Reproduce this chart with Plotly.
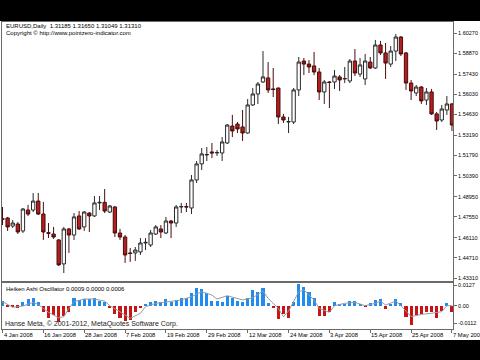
import plotly.graph_objects as go

# ---------------- data ----------------
dates_lbl = ["4 Jan 2008", "16 Jan 2008", "28 Jan 2008", "7 Feb 2008", "19 Feb 2008",
             "29 Feb 2008", "12 Mar 2008", "24 Mar 2008", "3 Apr 2008", "15 Apr 2008",
             "25 Apr 2008", "7 May 2008"]
dates_idx = [0, 8, 16, 24, 32, 40, 48, 56, 64, 72, 80, 88]

opens = [1.4742, 1.4747, 1.4691, 1.4705, 1.4657, 1.4802, 1.4802, 1.4864, 1.4774, 1.4645,
         1.4636, 1.4595, 1.4429, 1.4671, 1.4629, 1.4761, 1.4685, 1.4781, 1.4761, 1.4851,
         1.4855, 1.4788, 1.4823, 1.4643, 1.4615, 1.4505, 1.4505, 1.4512, 1.4574, 1.4560,
         1.4636, 1.4671, 1.4643, 1.4726, 1.4712, 1.4823, 1.4826, 1.4816, 1.5010, 1.5121,
         1.5183, 1.5204, 1.5197, 1.5197, 1.5266, 1.5383, 1.5397, 1.5377, 1.5335, 1.5529,
         1.5605, 1.5688, 1.5716, 1.5640, 1.5646, 1.5446, 1.5411, 1.5411, 1.5633, 1.5833,
         1.5812, 1.5799, 1.5757, 1.5619, 1.5688, 1.5688, 1.5723, 1.5709, 1.5695, 1.5833,
         1.5743, 1.5709, 1.5826, 1.5785, 1.5944, 1.5889, 1.5812, 1.5902, 1.5999, 1.5889,
         1.5681, 1.5612, 1.5653, 1.5563, 1.5619, 1.5467, 1.5425, 1.5494, 1.5536]
highs = [1.4823, 1.4754, 1.4733, 1.4719, 1.4816, 1.4837, 1.4920, 1.4920, 1.4858, 1.4712,
         1.4685, 1.4600, 1.4685, 1.4678, 1.4781, 1.4795, 1.4795, 1.4788, 1.4899, 1.4899,
         1.4947, 1.4837, 1.4830, 1.4671, 1.4629, 1.4539, 1.4546, 1.4608, 1.4608, 1.4664,
         1.4698, 1.4698, 1.4754, 1.4733, 1.4837, 1.4851, 1.4851, 1.5044, 1.5141, 1.5231,
         1.5238, 1.5266, 1.5217, 1.5307, 1.5397, 1.5460, 1.5411, 1.5494, 1.5570, 1.5646,
         1.5688, 1.5902, 1.5826, 1.5785, 1.5650, 1.5467, 1.5446, 1.5646, 1.5861, 1.5854,
         1.5840, 1.5896, 1.5785, 1.5702, 1.5692, 1.5771, 1.5736, 1.5792, 1.5847, 1.5916,
         1.5854, 1.5882, 1.5861, 1.5979, 1.5972, 1.5958, 1.5937, 1.6020, 1.6006, 1.5896,
         1.5702, 1.5667, 1.5660, 1.5646, 1.5640, 1.5480, 1.5529, 1.5591, 1.5543]
lows = [1.4698, 1.4657, 1.4678, 1.4636, 1.4643, 1.4761, 1.4788, 1.4768, 1.4595, 1.4608,
        1.4602, 1.4415, 1.4366, 1.4505, 1.4595, 1.4664, 1.4657, 1.4650, 1.4754, 1.4802,
        1.4781, 1.4781, 1.4615, 1.4595, 1.4436, 1.4443, 1.4450, 1.4491, 1.4525, 1.4546,
        1.4629, 1.4608, 1.4636, 1.4608, 1.4685, 1.4781, 1.4788, 1.4774, 1.4989, 1.5079,
        1.5141, 1.5162, 1.5176, 1.5141, 1.5259, 1.5307, 1.5335, 1.5280, 1.5330, 1.5522,
        1.5536, 1.5681, 1.5612, 1.5584, 1.5397, 1.5404, 1.5335, 1.5397, 1.5591, 1.5736,
        1.5750, 1.5736, 1.5563, 1.5536, 1.5508, 1.5640, 1.5626, 1.5681, 1.5681, 1.5729,
        1.5723, 1.5667, 1.5778, 1.5778, 1.5875, 1.5709, 1.5792, 1.5833, 1.5868, 1.5633,
        1.5563, 1.5591, 1.5536, 1.5529, 1.5460, 1.5356, 1.5411, 1.5460, 1.5349]
closes = [1.4738, 1.4685, 1.4712, 1.4650, 1.4809, 1.4774, 1.4864, 1.4774, 1.4650, 1.4641,
          1.4615, 1.4422, 1.4671, 1.4629, 1.4754, 1.4671, 1.4788, 1.4761, 1.4851, 1.4855,
          1.4795, 1.4830, 1.4643, 1.4615, 1.4491, 1.4501, 1.4525, 1.4574, 1.4578, 1.4643,
          1.4685, 1.4650, 1.4726, 1.4712, 1.4823, 1.4826, 1.4823, 1.5010, 1.5121, 1.5190,
          1.5186, 1.5197, 1.5200, 1.5273, 1.5390, 1.5349, 1.5363, 1.5335, 1.5529, 1.5605,
          1.5674, 1.5723, 1.5633, 1.5636, 1.5446, 1.5425, 1.5414, 1.5633, 1.5826, 1.5812,
          1.5792, 1.5757, 1.5619, 1.5688, 1.5685, 1.5729, 1.5702, 1.5712, 1.5833, 1.5750,
          1.5806, 1.5833, 1.5785, 1.5944, 1.5889, 1.5819, 1.5902, 1.5999, 1.5882, 1.5681,
          1.5626, 1.5653, 1.5557, 1.5619, 1.5467, 1.5418, 1.5501, 1.5536, 1.5390]

osc = [0.0030, -0.0010, -0.0010, -0.0012, 0.0025, 0.0042, 0.0050, 0.0025, -0.0042, -0.0080,
       -0.0059, -0.0101, -0.0063, -0.0038, 0.0050, 0.0036, 0.0042, 0.0042, 0.0046, 0.0029,
       0.0025, -0.0013, -0.0055, -0.0080, -0.0097, -0.0090, -0.0038, -0.0015, 0.0008, 0.0025,
       0.0029, 0.0025, 0.0042, 0.0025, 0.0036, 0.0046, 0.0046, 0.0078, 0.0113, 0.0105,
       0.0078, 0.0029, 0.0029, 0.0025, 0.0063, 0.0046, 0.0029, 0.0025, 0.0050, 0.0099,
       0.0084, 0.0113, 0.0015, -0.0017, -0.0084, -0.0055, -0.0076, 0.0025, 0.0134, 0.0120,
       0.0088, 0.0046, -0.0063, -0.0063, -0.0038, 0.0021, 0.0008, 0.0008, 0.0029, 0.0029,
       0.0008, -0.0008, 0.0015, 0.0036, 0.0042, -0.0021, 0.0008, 0.0042, 0.0015, -0.0069,
       -0.0122, -0.0059, -0.0055, -0.0042, -0.0042, -0.0080, -0.0034, 0.0015, -0.0038]

sig_idx = [0, 2, 4, 6, 7, 9, 11, 12, 13, 14, 16, 18, 20, 21, 23, 25, 27, 28, 30, 33, 35, 37,
           39, 41, 42, 44, 47, 49, 51, 52, 54, 55, 56, 58, 59, 61, 62, 64, 65, 67, 69, 71,
           73, 74, 75, 77, 78, 80, 82, 84, 86, 87, 88]
sig_val = [0.0025, -0.0010, -0.0002, 0.0021, 0.0008, -0.0042, -0.0076, -0.0070, -0.0017,
           0.0025, 0.0042, 0.0042, 0.0029, 0.0000, -0.0038, -0.0080, -0.0048, -0.0006,
           0.0015, 0.0025, 0.0036, 0.0057, 0.0088, 0.0067, 0.0042, 0.0063, 0.0036, 0.0050,
           0.0092, 0.0046, -0.0017, -0.0069, -0.0034, 0.0088, 0.0099, 0.0036, -0.0017,
           -0.0042, 0.0000, 0.0015, 0.0021, 0.0000, 0.0015, 0.0029, 0.0004, 0.0029, 0.0000,
           -0.0069, -0.0055, -0.0048, -0.0038, 0.0000, 0.0000]

price_ticks = [1.60270, 1.58870, 1.57430, 1.56030, 1.54630, 1.53190, 1.51790, 1.50390,
               1.48950, 1.47550, 1.46110, 1.44710, 1.43310]
osc_ticks = [0.0127, 0.0, -0.0112]
osc_tick_text = ["0.0127", "0.00", "-0.0112"]

# ---------------- figure ----------------
W, H = 480, 360
ML, MR, MT, MB = 2, 27, 21, 20
PW, PH = W - ML - MR, H - MT - MB
TOP = MT + PH  # pixel y of plot-area bottom


def py(pix):
    return (TOP - pix) / PH


def px(pix):
    return (pix - ML) / PW


idx = list(range(len(opens)))
FONT = "Liberation Sans, Arial, sans-serif"
FRAME = "#6a6a6a"
BLUE = "#1E8CF0"
RED = "#C81414"

fig = go.Figure()
fig.add_trace(go.Candlestick(
    x=idx, open=opens, high=highs, low=lows, close=closes,
    xaxis="x", yaxis="y", whiskerwidth=0,
    increasing=dict(line=dict(color="#2a2a2a", width=1), fillcolor="white"),
    decreasing=dict(line=dict(color="#4a0c0c", width=1), fillcolor="#B41E1E"),
    showlegend=False, hoverinfo="skip"))

fig.add_trace(go.Bar(
    x=idx, y=osc, xaxis="x2", yaxis="y2", width=0.6,
    marker=dict(color=[BLUE if v >= 0 else RED for v in osc], line=dict(width=0)),
    showlegend=False, hoverinfo="skip"))

fig.add_trace(go.Scatter(
    x=sig_idx, y=sig_val, xaxis="x2", yaxis="y2", mode="lines",
    line=dict(color="#9a9a9a", width=1), showlegend=False, hoverinfo="skip"))

xr = [-0.1, 88.2]
common_axis = dict(showgrid=False, zeroline=False, showline=True, mirror=True,
                   linecolor=FRAME, linewidth=1, fixedrange=True)

fig.update_layout(
    width=W, height=H,
    margin=dict(l=ML, r=MR, t=MT, b=MB, pad=0),
    paper_bgcolor="white", plot_bgcolor="white",
    boxgap=0.35, boxgroupgap=0,
    font=dict(family=FONT, size=6, color="#000000"),
    xaxis=dict(domain=[0, 1], anchor="y", range=xr, showticklabels=False, ticks="",
               rangeslider=dict(visible=False), **common_axis),
    yaxis=dict(domain=[py(281), py(22)], anchor="x", side="right",
               range=[1.43108, 1.61031], tickvals=price_ticks,
               ticktext=["%.5f" % v for v in price_ticks],
               ticks="outside", ticklen=3, tickcolor=FRAME,
               tickfont=dict(size=5.5, family=FONT, color="#000"), **common_axis),
    xaxis2=dict(domain=[0, 1], anchor="y2", range=xr, showticklabels=False,
                ticks="outside", ticklen=3, tickcolor=FRAME, tickvals=dates_idx,
                **common_axis),
    yaxis2=dict(domain=[py(329), py(283)], anchor="x2", side="right",
                range=[-0.0147, 0.0143], tickvals=osc_ticks, ticktext=osc_tick_text,
                ticks="outside", ticklen=3, tickcolor=FRAME,
                tickfont=dict(size=5.5, family=FONT, color="#000"), **common_axis),
    bargap=0,
)

annotations = [
    dict(text="EURUSD,Daily  1.31185 1.31650 1.31049 1.31310", x=px(4), y=py(25.7)),
    dict(text="Copyright \u00a9 http://www.pointzero-indicator.com", x=px(4), y=py(32.7)),
    dict(text="Heiken Ashi Oscillator 0.0009 0.0000 0.0006", x=px(4), y=py(288.5)),
    dict(text="Hanse Meta, \u00a9 2001-2012, MetaQuotes Software Corp.", x=px(3), y=py(324),
         font=dict(size=7, family=FONT, color="#222")),
]
for a in annotations:
    a.update(xref="paper", yref="paper", xanchor="left", yanchor="middle",
             showarrow=False)
    a.setdefault("font", dict(size=6, family=FONT, color="#000"))
for i, lbl in zip(dates_idx, dates_lbl):
    annotations.append(dict(text=lbl, x=i, xref="x2", y=py(335), yref="paper",
                            xanchor="left", yanchor="middle", showarrow=False,
                            xshift=-1, font=dict(size=5.8, family=FONT, color="#000")))
fig.update_layout(annotations=annotations)

# black bands of the video frame
fig.add_shape(type="rect", xref="paper", yref="paper", x0=-0.1, x1=1.2,
              y0=1, y1=1.2, fillcolor="black", line=dict(width=0), layer="above")
fig.add_shape(type="rect", xref="paper", yref="paper", x0=-0.1, x1=1.2,
              y0=-0.2, y1=0, fillcolor="black", line=dict(width=0), layer="above")

fig.write_html("out.html")
